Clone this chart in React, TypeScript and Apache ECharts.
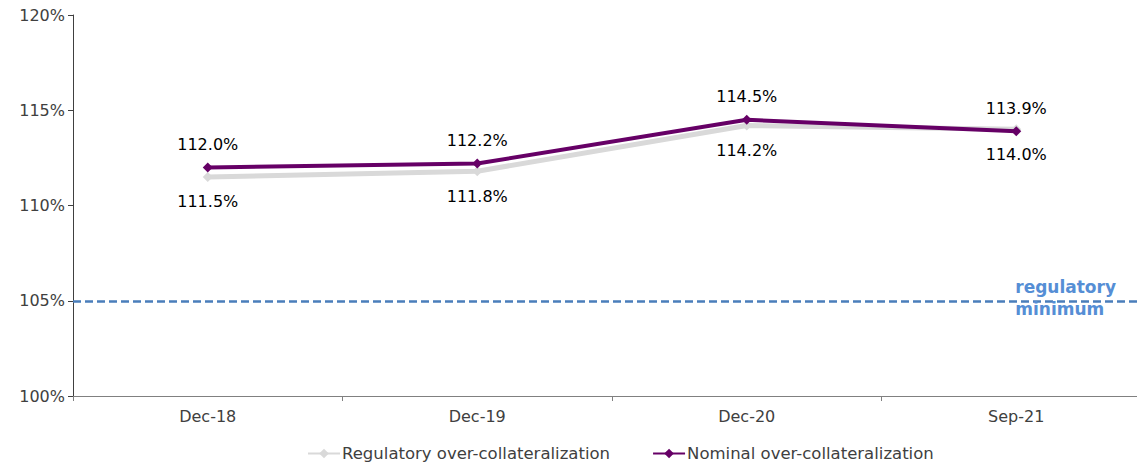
import React, { useEffect, useRef } from "react";
import * as echarts from "echarts";

const categories = ["Dec-18", "Dec-19", "Dec-20", "Sep-21"];
const regulatory = [111.5, 111.8, 114.2, 114.0];
const nominal = [112.0, 112.2, 114.5, 113.9];
const regulatoryMinimum = 105;
const yMin = 100;
const yMax = 120;
const yInterval = 5;

const FONT = "'DejaVu Sans', Verdana, sans-serif";

export default function App() {
  const ref = useRef<HTMLDivElement>(null);
  useEffect(() => {
    if (!ref.current) return;
    document.documentElement.style.overflow = "hidden";
    const chart = echarts.init(ref.current, null, { renderer: "svg" });
    chart.setOption({
      animation: false,
      textStyle: { fontFamily: FONT },
      grid: { left: 73, top: 15, width: 1078, height: 381, containLabel: false, outerBoundsMode: "none" },
      legend: {
        top: 440,
        left: 302,
        itemWidth: 32,
        itemHeight: 12,
        itemGap: 42,
        textStyle: { fontFamily: FONT, fontSize: 16.5, color: "#404040", padding: [0, 0, 0, -3] },
        data: ["Regulatory over-collateralization", "Nominal over-collateralization"],
      },
      xAxis: {
        type: "category",
        data: categories,
        boundaryGap: true,
        axisLine: { lineStyle: { color: "#808080", width: 1 } },
        axisTick: { show: true, interval: 0, length: 5, lineStyle: { color: "#808080" } },
        axisLabel: { fontFamily: FONT, fontSize: 16, color: "#404040", margin: 12 },
      },
      yAxis: {
        type: "value",
        min: yMin,
        max: yMax,
        interval: yInterval,
        splitLine: { show: false },
        axisLine: { show: true, lineStyle: { color: "#404040", width: 1 } },
        axisTick: { show: true, length: 5, lineStyle: { color: "#404040" } },
        axisLabel: { fontFamily: FONT, fontSize: 16, color: "#404040", formatter: "{value}%", margin: 8 },
      },
      series: [
        {
          name: "Regulatory over-collateralization",
          type: "line",
          data: regulatory,
          color: "#d9d9d9",
          lineStyle: { color: "#d9d9d9", width: 5 },
          itemStyle: { color: "#d9d9d9" },
          symbol: "diamond",
          symbolSize: 10,
          label: {
            show: true,
            position: "bottom",
            distance: 12,
            fontFamily: FONT,
            fontSize: 16,
            color: "#000",
            formatter: (p: any) => p.value.toFixed(1) + "%",
          },
          markLine: {
            silent: true,
            symbol: "none",
            lineStyle: { color: "#4a7ebb", width: 2.5, type: [8, 4] },
            label: { show: false },
            data: [{ yAxis: regulatoryMinimum }],
          },
          z: 2,
        },
        {
          name: "Nominal over-collateralization",
          type: "line",
          data: nominal,
          color: "#660066",
          lineStyle: { color: "#660066", width: 4 },
          itemStyle: { color: "#660066" },
          symbol: "diamond",
          symbolSize: 10,
          label: {
            show: true,
            position: "top",
            distance: 10,
            fontFamily: FONT,
            fontSize: 16,
            color: "#000",
            formatter: (p: any) => p.value.toFixed(1) + "%",
          },
          z: 3,
        },
      ],
    });
    const pt = chart.convertToPixel({ xAxisIndex: 0, yAxisIndex: 0 }, [categories.length - 1, regulatoryMinimum]);
    chart.setOption({
      graphic: [
        {
          type: "text",
          x: pt[0] - 1,
          y: pt[1] - 3,
          style: {
            text: "regulatory\nminimum",
            fill: "#558ed5",
            font: `bold 17px ${FONT}`,
            lineHeight: 22,
            align: "left",
            verticalAlign: "middle",
          },
          z: 10,
        },
      ],
    });
    return () => chart.dispose();
  }, []);
  return <div ref={ref} style={{ width: 1151, height: 466, marginTop: -8, marginLeft: -8 }} />;
}
